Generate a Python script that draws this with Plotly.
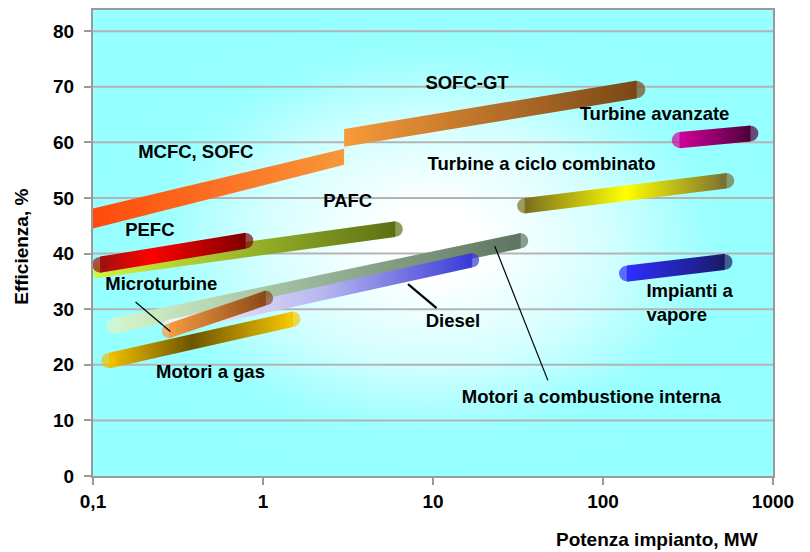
import numpy as np
import plotly.graph_objects as go

# ---------------- data ----------------
x_tick_vals = [0.1, 1, 10, 100, 1000]
x_tick_text = ["0,1", "1", "10", "100", "1000"]
y_tick_vals = [0, 10, 20, 30, 40, 50, 60, 70, 80]
grid_vals = [10, 20, 30, 40, 50, 60, 70, 80]

# bands (drawing order)
band_names = ["MCFC, SOFC", "SOFC-GT", "PAFC", "PEFC", "Motori a combustione interna",
              "Diesel", "Microturbine", "Motori a gas", "Turbine a ciclo combinato",
              "Turbine avanzate", "Impianti a vapore"]
band_x_start = [0.1, 3.0, 0.105, 0.11, 0.132, 0.28, 0.28, 0.124, 34.6, 282, 138]
band_x_end = [3.0, 158, 6.0, 0.79, 32.8, 17.0, 1.04, 1.5, 534, 738, 520]
band_y_start = [46.3, 60.8, 37.0, 38.0, 27.0, 26.8, 26.1, 20.75, 48.6, 60.4, 36.4]
band_y_end = [57.4, 69.5, 44.4, 42.3, 42.3, 38.8, 32.0, 28.2, 53.1, 61.6, 38.5]
band_thick_start = [3.6, 3.2, 2.8, 2.9, 2.8, 2.6, 2.7, 2.8, 2.8, 2.9, 2.9]
band_thick_end = [2.9, 3.2, 2.8, 2.9, 2.8, 2.6, 2.7, 2.8, 2.8, 2.9, 2.9]
band_round_start = [False, False, True, True, True, True, True, True, True, True, True]
band_round_end = [False, True, True, True, True, True, True, True, True, True, True]
band_colors = [
    [[0, "#FF4A0C"], [1, "#F7983A"]],
    [[0, "#F79A3A"], [1, "#7A4818"]],
    [[0, "#D0F53A"], [0.5, "#9AB52A"], [1, "#5E7012"]],
    [[0, "#A01010"], [0.35, "#FF0000"], [1, "#800000"]],
    [[0, "#D4F6CC"], [0.5, "#98B498"], [1, "#5E7560"]],
    [[0, "#F6F6FF"], [0.5, "#B8B8F0"], [1, "#3A3AD8"]],
    [[0, "#F59A40"], [1, "#8B4A1A"]],
    [[0, "#F0C000"], [0.45, "#6E5400"], [1, "#F5C800"]],
    [[0, "#7A7020"], [0.5, "#FFFF00"], [1, "#7A7030"]],
    [[0, "#D0009A"], [1, "#50003A"]],
    [[0, "#2E2EFF"], [1, "#1A1A6A"]],
]

# labels
label_text = ["MCFC, SOFC", "PEFC", "PAFC", "SOFC-GT", "Turbine avanzate",
              "Turbine a ciclo combinato", "Microturbine", "Motori a gas", "Diesel",
              "Motori a combustione interna"]
label_x = [0.402, 0.216, 3.15, 15.85, 201, 43.5, 0.252, 0.491, 13.1, 85.3]
label_y = [58.0, 44.0, 49.2, 70.5, 64.9, 55.8, 34.3, 18.5, 27.6, 14.0]
vapore_text = "Impianti a<br>vapore"
vapore_x = 180
vapore_y = 30.8

# leader lines
leader_x0 = [0.178, 7.13, 23.1]
leader_y0 = [31.3, 34.5, 41.3]
leader_x1 = [0.285, 10.5, 47.4]
leader_y1 = [26.0, 30.2, 17.2]
leader_w = [1.2, 2.2, 1.2]

X_MIN, X_MAX = 0.1, 1000
Y_MAX = 83.8

FONT = "Liberation Sans, Arial, sans-serif"
PLOT_H = 468
PX_PER_UNIT = PLOT_H / Y_MAX

fig = go.Figure()

# background radial gradient
fig.add_trace(go.Scatter(
    x=[X_MIN, X_MAX, X_MAX, X_MIN, X_MIN], y=[0, 0, Y_MAX, Y_MAX, 0],
    mode="none", fill="toself",
    fillgradient=dict(type="radial",
                      colorscale=[[0, "#FFFFFF"], [0.15, "#FFFFFF"], [0.5, "#D6FFFF"],
                                  [0.82, "#99FFFF"], [1, "#96FFFF"]]),
    hoverinfo="skip", showlegend=False))

# gridlines above background
for g in grid_vals:
    fig.add_trace(go.Scatter(x=[X_MIN, X_MAX], y=[g, g], mode="lines",
                             line=dict(color="#B4B4B4", width=2),
                             hoverinfo="skip", showlegend=False))

# bands
for i, name in enumerate(band_names):
    x1, x2 = band_x_start[i], band_x_end[i]
    y1, y2 = band_y_start[i], band_y_end[i]
    t1, t2 = band_thick_start[i] / 2, band_thick_end[i] / 2
    cs = band_colors[i]
    fig.add_trace(go.Scatter(
        x=[x1, x2, x2, x1, x1], y=[y1 + t1, y2 + t2, y2 - t2, y1 - t1, y1 + t1],
        mode="none", fill="toself",
        fillgradient=dict(type="horizontal", colorscale=cs),
        hoverinfo="skip", showlegend=False, name=name))
    cx, cy, cc, cz = [], [], [], []
    if band_round_start[i]:
        cx.append(x1); cy.append(y1); cc.append(cs[0][1]); cz.append(band_thick_start[i] * PX_PER_UNIT * 0.96)
    if band_round_end[i]:
        cx.append(x2); cy.append(y2); cc.append(cs[-1][1]); cz.append(band_thick_end[i] * PX_PER_UNIT * 0.96)
    if cx:
        fig.add_trace(go.Scatter(x=cx, y=cy, mode="markers",
                                 marker=dict(color=cc, size=cz, line=dict(width=0)),
                                 hoverinfo="skip", showlegend=False))

# leader lines
for i in range(len(leader_x0)):
    fig.add_trace(go.Scatter(x=[leader_x0[i], leader_x1[i]], y=[leader_y0[i], leader_y1[i]],
                             mode="lines", line=dict(color="black", width=leader_w[i]),
                             hoverinfo="skip", showlegend=False))

# labels
fig.add_trace(go.Scatter(x=label_x, y=label_y, mode="text", text=label_text,
                         textposition="middle center",
                         textfont=dict(family=FONT, size=18.5, color="black", weight="bold"),
                         hoverinfo="skip", showlegend=False))
fig.add_trace(go.Scatter(x=[vapore_x], y=[vapore_y], mode="text", text=[vapore_text],
                         textposition="middle right",
                         textfont=dict(family=FONT, size=18.5, color="black", weight="bold"),
                         hoverinfo="skip", showlegend=False))

fig.update_layout(
    width=802, height=544,
    margin=dict(l=85, r=37, t=0, b=76),
    paper_bgcolor="white", plot_bgcolor="#96FFFF",
    font=dict(family=FONT, color="black"),
    showlegend=False,
    xaxis=dict(type="log", range=[np.log10(X_MIN), np.log10(X_MAX)],
               tickvals=x_tick_vals, ticktext=x_tick_text,
               ticks="outside", ticklen=7, tickwidth=2, tickcolor="#9A9A9A",
               showline=True, linecolor="#9A9A9A", linewidth=2, mirror=True,
               showgrid=False, zeroline=False,
               tickfont=dict(family=FONT, size=19, color="black", weight="bold")),
    yaxis=dict(range=[0, Y_MAX], tickvals=y_tick_vals,
               ticks="outside", ticklen=7, tickwidth=2, tickcolor="#9A9A9A",
               showline=True, linecolor="#9A9A9A", linewidth=2, mirror=True,
               showgrid=False, zeroline=False, ticklabelstandoff=6,
               tickfont=dict(family=FONT, size=19, color="black", weight="bold")),
    annotations=[
        dict(text="Potenza impianto, MW", xref="paper", yref="paper",
             x=0.981, y=-0.137, xanchor="right", yanchor="middle", showarrow=False,
             font=dict(family=FONT, size=19, color="black", weight="bold")),
        dict(text="Efficienza, %", xref="paper", yref="paper",
             x=-0.105, y=0.491, xanchor="center", yanchor="middle", textangle=-90,
             showarrow=False,
             font=dict(family=FONT, size=19, color="black", weight="bold")),
    ],
)

fig.write_html("out.html")
